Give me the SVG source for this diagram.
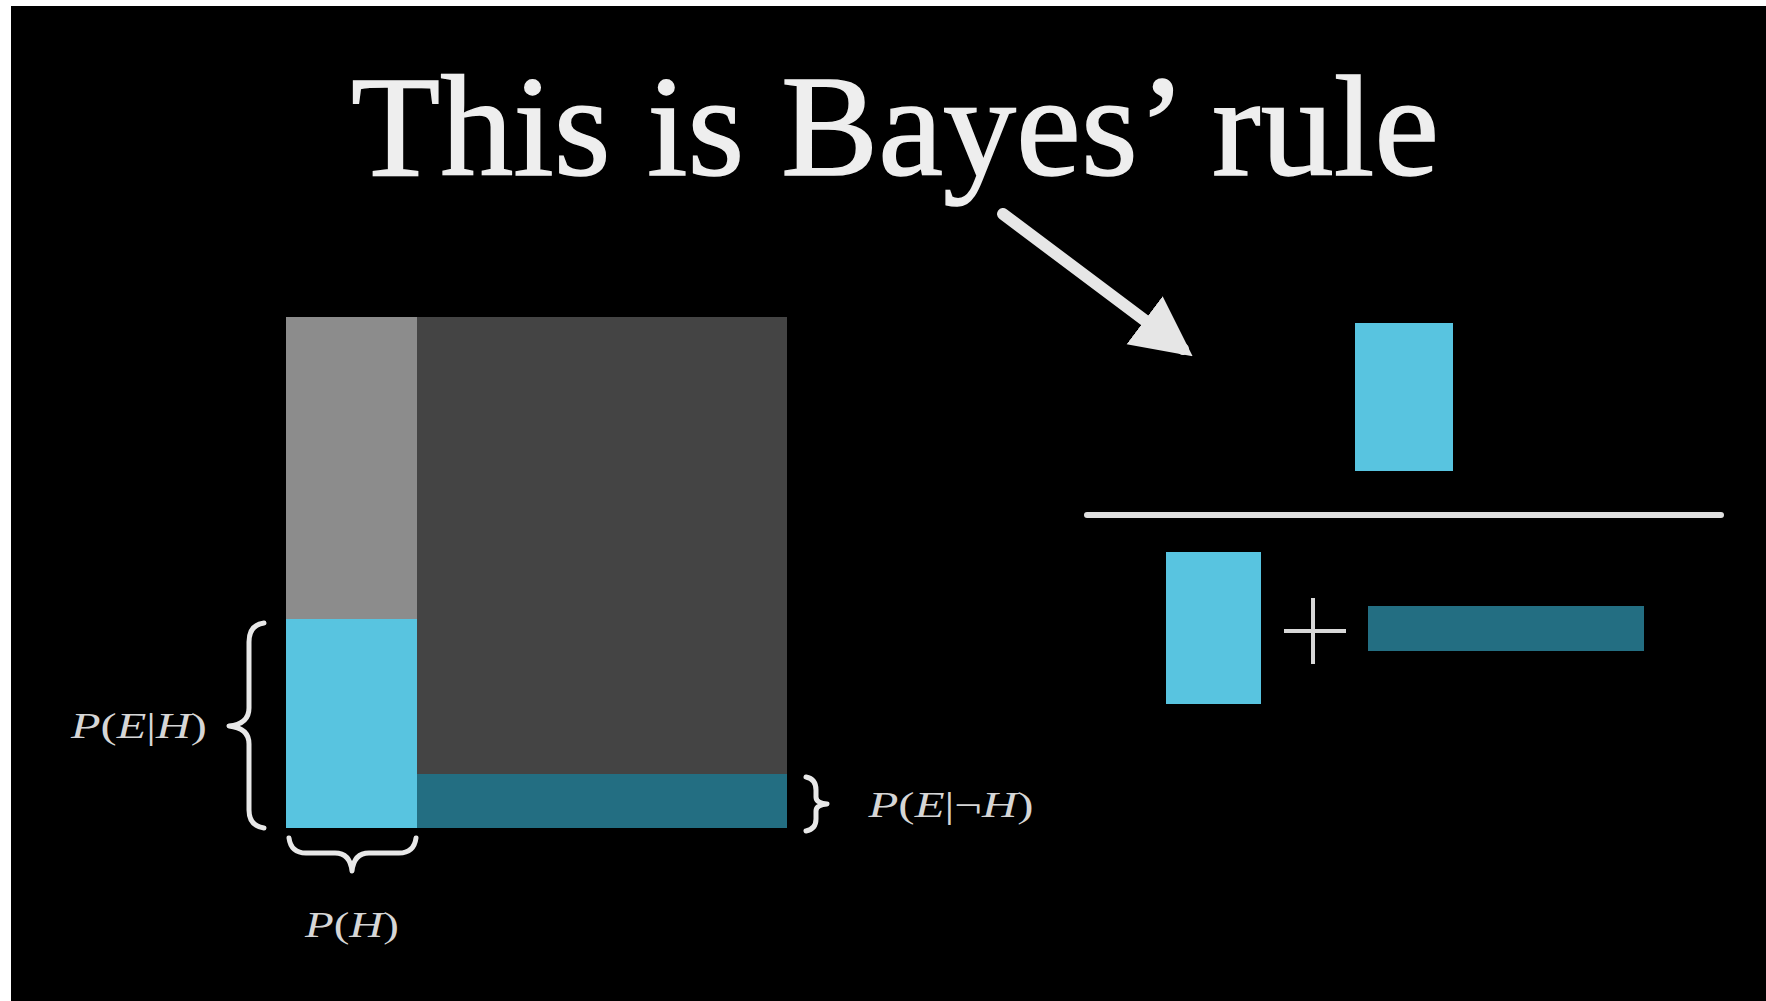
<svg xmlns="http://www.w3.org/2000/svg" width="1766" height="1001" viewBox="0 0 1766 1001">
<defs>
<style>
.brace{fill:none;stroke:#e8e8e8;stroke-width:5;stroke-linecap:round;stroke-linejoin:round}
.lbl{font-family:"Liberation Serif",serif;font-size:36px;fill:#d6d6d6}
.cyan{fill:#58c4e0}
.teal{fill:#236e82}
</style>
<marker id="ah" viewBox="0 0 10 10" refX="8" refY="5" markerWidth="5" markerHeight="5.5" orient="auto" markerUnits="strokeWidth">
<path d="M0,0 L10,5 L0,10 z" fill="#e6e6e6"/>
</marker>
</defs>
<rect x="0" y="0" width="1766" height="1001" fill="#ffffff"/>
<rect x="11" y="6" width="1755" height="995" fill="#000000"/>

<g id="title">
<text x="895" y="175" text-anchor="middle" font-family="Liberation Serif, serif" font-size="145" fill="#eeeeee" stroke="#eeeeee" stroke-width="1.5" textLength="1088" lengthAdjust="spacingAndGlyphs">This is Bayes’ rule</text>
</g>

<g id="area-diagram">
<rect x="286" y="317" width="131" height="302" fill="#8c8c8c"/>
<rect x="417" y="317" width="370" height="457" fill="#444444"/>
<rect class="cyan" x="286" y="619" width="131" height="209"/>
<rect class="teal" x="417" y="774" width="370" height="54"/>
</g>

<g id="label-peh">
<path class="brace" d="M264,623 Q249,625 249,642 L249,708 Q249,724 229,726 Q249,728 249,744 L249,810 Q249,826 264,828"/>
<text class="lbl" x="139" y="738" text-anchor="middle" textLength="136" lengthAdjust="spacingAndGlyphs"><tspan font-style="italic">P</tspan>(<tspan font-style="italic">E</tspan>|<tspan font-style="italic">H</tspan>)</text>
</g>

<g id="label-penh">
<path class="brace" d="M806,777 Q816,779 816,790 L816,797 Q816,803 827,804 Q816,805 816,811 L816,819 Q816,829 806,831"/>
<text class="lbl" x="951" y="817" text-anchor="middle" textLength="165" lengthAdjust="spacingAndGlyphs"><tspan font-style="italic">P</tspan>(<tspan font-style="italic">E</tspan>|¬<tspan font-style="italic">H</tspan>)</text>
</g>

<g id="label-ph">
<path class="brace" d="M289,838 Q291,853 306,853 L335,853 Q350,853 352,871 Q354,853 369,853 L399,853 Q414,853 416,838"/>
<text class="lbl" x="352" y="937" text-anchor="middle" textLength="94" lengthAdjust="spacingAndGlyphs"><tspan font-style="italic">P</tspan>(<tspan font-style="italic">H</tspan>)</text>
</g>

<g id="fraction">
<rect class="cyan" x="1355" y="323" width="98" height="148"/>
<line x1="1087" y1="515" x2="1721" y2="515" stroke="#e0e0e0" stroke-width="6" stroke-linecap="round"/>
<rect class="cyan" x="1166" y="552" width="95" height="152"/>
<line x1="1284" y1="631" x2="1346" y2="631" stroke="#d8d8d8" stroke-width="4"/>
<line x1="1313" y1="598" x2="1313" y2="664" stroke="#d8d8d8" stroke-width="4"/>
<rect class="teal" x="1368" y="606" width="276" height="45" fill="#2a6e80"/>
</g>

<g id="connectors">
<line x1="1003" y1="214" x2="1183" y2="349" stroke="#e6e6e6" stroke-width="12" stroke-linecap="round" marker-end="url(#ah)"/>
</g>
</svg>
